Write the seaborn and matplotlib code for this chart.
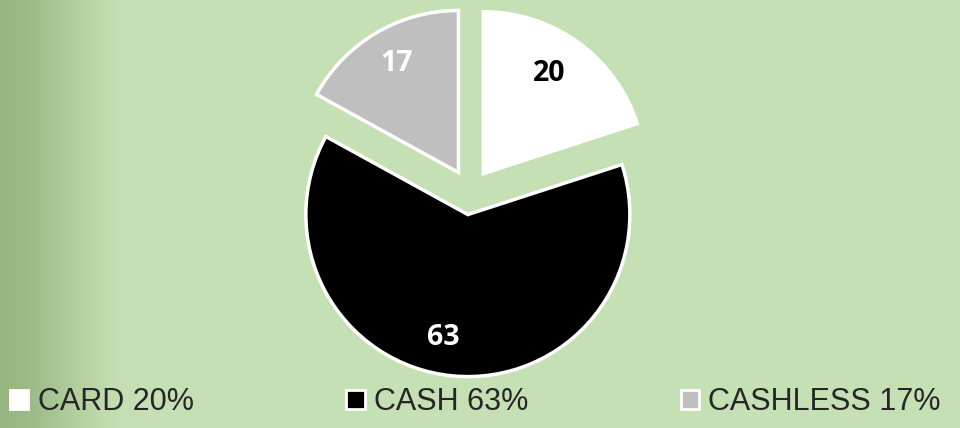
import numpy as np
import matplotlib
matplotlib.use("Agg")
import matplotlib.pyplot as plt
import seaborn as sns
from matplotlib.patches import Patch
from matplotlib.colors import to_rgb
from matplotlib.transforms import offset_copy

categories = ["CARD", "CASH", "CASHLESS"]
values = [20, 63, 17]
legend_labels = ["CARD 20%", "CASH 63%", "CASHLESS 17%"]
colors = ["#FFFFFF", "#000000", "#BFBFBF"]
label_colors = ["#000000", "#FFFFFF", "#FFFFFF"]

sns.set_theme(style="white")
plt.rcParams["font.family"] = ["Liberation Sans", "DejaVu Sans"]

W, H, DPI = 960, 428, 100
fig = plt.figure(figsize=(W / DPI, H / DPI), dpi=DPI)

# background with gradient on the left edge
bg = fig.add_axes([0, 0, 1, 1], zorder=0)
light = np.array(to_rgb("#C5E0B4"))
dark = np.array(to_rgb("#98B682"))
xs = np.arange(W) + 0.5
t = np.clip(xs / 135.0, 0, 1)
t = t * t * (3 - 2 * t)
row = dark[None, :] * (1 - t[:, None]) + light[None, :] * t[:, None]
img = np.repeat(row[None, :, :], 4, axis=0)
bg.imshow(img, aspect="auto", extent=[0, 1, 0, 1], interpolation="bilinear")
bg.set_axis_off()

# pie
ax = fig.add_axes([0, 0, 1, 1], zorder=1)
ax.patch.set_alpha(0)
R = 162.0
cx, cy = 470.0, 192.0
wedges, texts, autotexts = ax.pie(
    values,
    colors=colors,
    startangle=90,
    counterclock=False,
    explode=[0.14] * len(values),
    autopct=lambda p: f"{p:.0f}",
    pctdistance=0.74,
    wedgeprops=dict(edgecolor="white", linewidth=2.5),
)
for at, c in zip(autotexts, label_colors):
    at.set_color(c)
    at.set_fontsize(20.5)
    at.set_fontweight("bold")
    at.set_family(["Open Sans", "DejaVu Sans"])
ax.set_xlim(-cx / R, (W - cx) / R)
ax.set_ylim(-(H - cy) / R, cy / R)
ax.set_aspect("equal", adjustable="box")
ax.set_axis_off()

# small nudges of the value labels to match the original placement
nudges = [(-5, 3), (-13, -4), (-1, 6)]
for at, (dx, dy) in zip(autotexts, nudges):
    at.set_transform(offset_copy(at.get_transform(), fig=fig, x=dx, y=dy, units="dots"))

handles = [Patch(facecolor=c, edgecolor="white", linewidth=2) for c in colors]
fig.legend(
    handles, legend_labels,
    loc="center left",
    bbox_to_anchor=(10 / W, 1 - 402 / H),
    ncol=3,
    frameon=False,
    fontsize=22,
    handlelength=0.6,
    handleheight=0.6,
    handletextpad=0.3,
    columnspacing=5.0,
    borderpad=0,
    borderaxespad=0,
)

fig.savefig("out.png", dpi=DPI)
